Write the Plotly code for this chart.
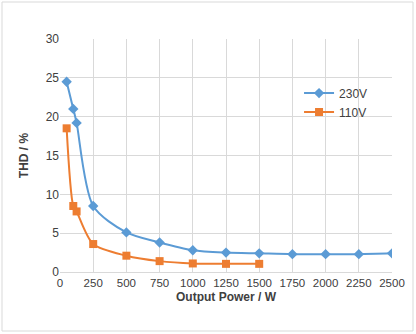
import plotly.graph_objects as go

x_230 = [50, 100, 125, 250, 500, 750, 1000, 1250, 1500, 1750, 2000, 2250, 2500]
thd_230 = [24.5, 21.0, 19.2, 8.5, 5.1, 3.8, 2.8, 2.5, 2.4, 2.3, 2.3, 2.3, 2.4]
x_110 = [50, 100, 125, 250, 500, 750, 1000, 1250, 1500]
thd_110 = [18.5, 8.5, 7.8, 3.6, 2.1, 1.4, 1.1, 1.05, 1.05]

W, H = 416, 334
L, R, T, B = 60, 24, 39, 62
pw, ph = W - L - R, H - T - B

fig = go.Figure()
fig.add_trace(go.Scatter(x=x_230, y=thd_230, name="230V", mode="lines+markers",
                         line=dict(color="#5b9bd5", width=2, shape="spline", smoothing=0.8),
                         marker=dict(symbol="diamond", size=8, color="#5b9bd5")))
fig.add_trace(go.Scatter(x=x_110, y=thd_110, name="110V", mode="lines+markers",
                         line=dict(color="#ed7d31", width=2, shape="spline", smoothing=0.8),
                         marker=dict(symbol="square", size=8, color="#ed7d31")))

font = dict(family="Liberation Sans", size=12, color="#404040")
fig.update_layout(
    width=W, height=H, margin=dict(l=L, r=R, t=T, b=B),
    paper_bgcolor="white", plot_bgcolor="white",
    font=font,
    xaxis=dict(range=[0, 2500], tickvals=list(range(0, 2501, 250)), showgrid=True,
               gridcolor="#d9d9d9", zeroline=False, showline=True, linecolor="#d9d9d9",
               ticks="", tickfont=dict(size=11.5),
               title=dict(text="<b>Output Power / W</b>", font=dict(size=12, color="#404040"), standoff=4)),
    yaxis=dict(range=[0, 30], tickvals=list(range(0, 31, 5)), showgrid=True,
               gridcolor="#d9d9d9", zeroline=False, showline=False,
               ticks="", ticklen=0, tickfont=dict(size=12),
               title=dict(text="<b>THD / %</b>", font=dict(size=12, color="#404040"), standoff=14)),
    legend=dict(x=0.72, y=0.83, xanchor="left", yanchor="top", bgcolor="rgba(0,0,0,0)",
                font=dict(size=12, color="#404040"), tracegroupgap=2),
    showlegend=True,
)
fig.add_shape(type="rect", xref="paper", yref="paper",
              x0=(2 - L) / pw, x1=(413 - L) / pw, y0=(H - B - 331) / ph, y1=(H - B - 2) / ph,
              line=dict(color="#d9d9d9", width=1), layer="below")
fig.write_html("out.html")
